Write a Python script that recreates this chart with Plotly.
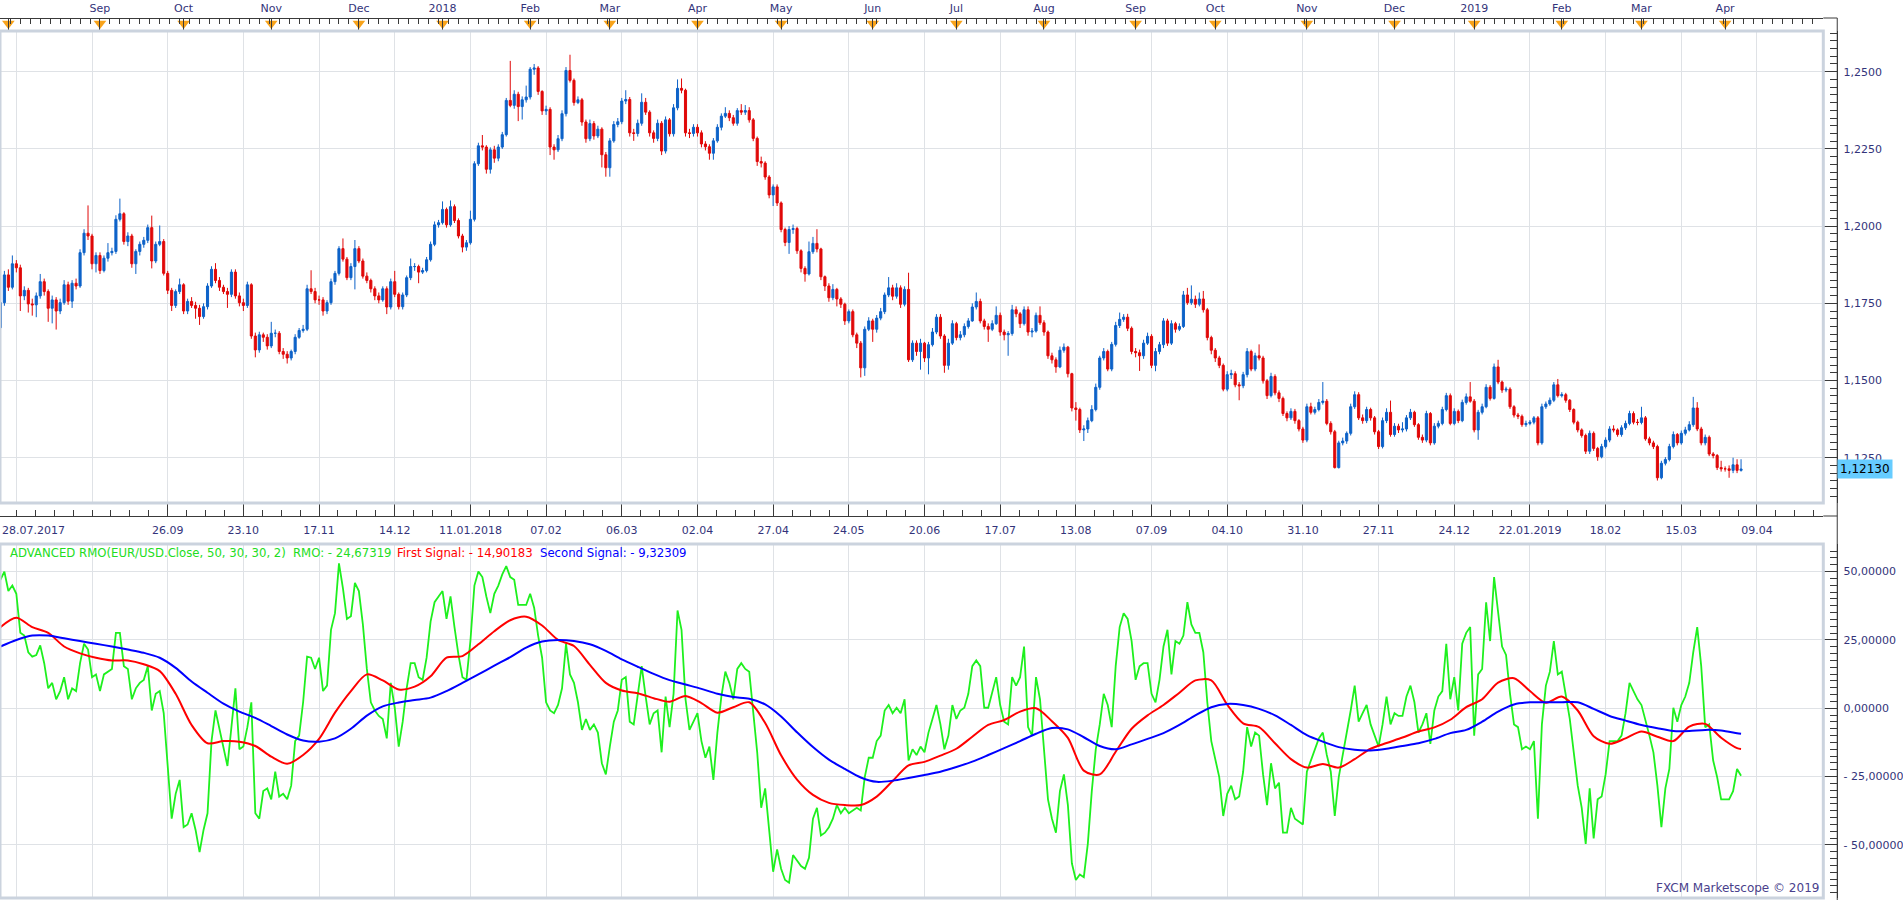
import pandas as pd
import plotly.graph_objects as go

# ---------------- data (EUR/USD daily, prices in pips: 11752 = 1.1752) ----------------
close_pips = [
11752,11842,11802,11878,11865,11774,11792,11748,11745,11774,
11820,11788,11734,11761,11725,11752,11810,11757,11815,11806,
11914,11977,11968,11878,11905,11856,11896,11914,11918,12022,
12040,11950,11968,11878,11918,11941,11954,11995,11887,11941,
11950,11847,11792,11743,11788,11810,11725,11756,11743,11734,
11707,11739,11806,11860,11824,11802,11788,11779,11851,11774,
11752,11743,11810,11644,11599,11648,11640,11612,11653,11653,
11594,11585,11573,11594,11640,11662,11666,11797,11788,11761,
11761,11725,11752,11820,11847,11927,11893,11833,11869,11927,
11887,11838,11824,11797,11774,11761,11797,11738,11820,11779,
11739,11777,11833,11869,11869,11851,11856,11891,11941,12004,
12011,12054,12004,12063,12018,11968,11932,11946,12022,12202,
12260,12256,12184,12247,12220,12256,12296,12407,12391,12427,
12387,12409,12418,12508,12512,12436,12373,12378,12256,12247,
12283,12364,12504,12472,12400,12409,12337,12283,12332,12292,
12314,12231,12189,12276,12329,12338,12405,12410,12302,12300,
12333,12401,12369,12302,12284,12333,12243,12344,12299,12383,
12446,12440,12302,12300,12320,12302,12266,12257,12236,12276,
12320,12356,12365,12351,12333,12374,12369,12374,12344,12284,
12209,12204,12159,12101,12127,12075,11989,11947,11989,11992,
11920,11863,11845,11917,11944,11926,11836,11806,11768,11795,
11764,11747,11693,11723,11648,11621,11541,11666,11693,11666,
11702,11723,11777,11800,11773,11800,11747,11795,11567,11621,
11594,11621,11573,11616,11657,11705,11644,11549,11621,11684,
11639,11648,11675,11693,11738,11756,11693,11675,11666,11684,
11711,11657,11648,11652,11729,11716,11684,11729,11657,11660,
11711,11687,11657,11580,11567,11544,11598,11608,11522,11411,
11406,11340,11343,11370,11406,11478,11573,11594,11537,11617,
11678,11698,11705,11669,11594,11590,11580,11621,11643,11549,
11594,11616,11693,11621,11684,11666,11675,11777,11752,11763,
11747,11764,11729,11639,11598,11573,11549,11472,11519,11522,
11486,11483,11519,11594,11537,11580,11573,11499,11451,11513,
11460,11442,11393,11379,11400,11370,11343,11307,11415,11397,
11406,11429,11433,11361,11334,11218,11298,11304,11329,11415,
11454,11379,11370,11406,11379,11334,11286,11370,11397,11325,
11352,11340,11343,11379,11397,11357,11316,11307,11393,11298,
11352,11361,11406,11451,11361,11400,11370,11429,11447,11433,
11340,11397,11415,11478,11442,11544,11495,11469,11472,11415,
11388,11384,11357,11361,11365,11379,11298,11415,11424,11436,
11486,11451,11454,11436,11406,11365,11340,11322,11271,11329,
11280,11253,11286,11307,11343,11340,11325,11347,11361,11393,
11365,11364,11379,11311,11298,11286,11185,11232,11244,11286,
11325,11298,11329,11340,11357,11411,11343,11298,11316,11262,
11257,11218,11214,11214,11209,11227,11209,11213]

open_pips = [
11671,11752,11842,11802,11878,11865,11774,11792,11748,11745,
11774,11820,11788,11734,11761,11725,11752,11810,11757,11815,
11806,11914,11977,11968,11878,11905,11856,11896,11914,11918,
12022,12040,11950,11968,11878,11918,11941,11954,11995,11887,
11941,11950,11847,11792,11743,11788,11810,11725,11756,11743,
11734,11707,11739,11806,11860,11824,11802,11788,11779,11851,
11774,11752,11743,11810,11644,11599,11648,11640,11612,11653,
11653,11594,11585,11573,11594,11640,11662,11666,11797,11788,
11761,11761,11725,11752,11820,11847,11927,11893,11833,11869,
11927,11887,11838,11824,11797,11774,11761,11797,11738,11820,
11779,11739,11777,11833,11869,11869,11851,11856,11891,11941,
12004,12011,12054,12004,12063,12018,11968,11932,11946,12022,
12202,12260,12256,12184,12247,12220,12256,12296,12407,12391,
12427,12387,12409,12418,12508,12512,12436,12373,12378,12256,
12247,12283,12364,12504,12472,12400,12409,12337,12283,12332,
12292,12314,12231,12189,12276,12329,12338,12405,12410,12302,
12300,12333,12401,12369,12302,12284,12333,12243,12344,12299,
12383,12446,12440,12302,12300,12320,12302,12266,12257,12236,
12276,12320,12356,12365,12351,12333,12374,12369,12374,12344,
12284,12209,12204,12159,12101,12127,12075,11989,11947,11989,
11992,11920,11863,11845,11917,11944,11926,11836,11806,11768,
11795,11764,11747,11693,11723,11648,11621,11541,11666,11693,
11666,11702,11723,11777,11800,11773,11800,11747,11795,11567,
11621,11594,11621,11573,11616,11657,11705,11644,11549,11621,
11684,11639,11648,11675,11693,11738,11756,11693,11675,11666,
11684,11711,11657,11648,11652,11729,11716,11684,11729,11657,
11660,11711,11687,11657,11580,11567,11544,11598,11608,11522,
11411,11406,11340,11343,11370,11406,11478,11573,11594,11537,
11617,11678,11698,11705,11669,11594,11590,11580,11621,11643,
11549,11594,11616,11693,11621,11684,11666,11675,11777,11752,
11763,11747,11764,11729,11639,11598,11573,11549,11472,11519,
11522,11486,11483,11519,11594,11537,11580,11573,11499,11451,
11513,11460,11442,11393,11379,11400,11370,11343,11307,11415,
11397,11406,11429,11433,11361,11334,11218,11298,11304,11329,
11415,11454,11379,11370,11406,11379,11334,11286,11370,11397,
11325,11352,11340,11343,11379,11397,11357,11316,11307,11393,
11298,11352,11361,11406,11451,11361,11400,11370,11429,11447,
11433,11340,11397,11415,11478,11442,11544,11495,11469,11472,
11415,11388,11384,11357,11361,11365,11379,11298,11415,11424,
11436,11486,11451,11454,11436,11406,11365,11340,11322,11271,
11329,11280,11253,11286,11307,11343,11340,11325,11347,11361,
11393,11365,11364,11379,11311,11298,11286,11185,11232,11244,
11286,11325,11298,11329,11340,11357,11411,11343,11298,11316,
11262,11257,11218,11214,11214,11209,11227,11209]

high_pips = [
11770,11855,11860,11905,11890,11875,11805,11800,11765,11785,
11845,11830,11795,11775,11770,11765,11825,11820,11825,11830,
11925,11990,12067,11975,11915,11915,11905,11945,11930,12035,
12089,12045,11980,11975,11925,11950,11965,12005,12034,11950,
12002,11958,11855,11800,11795,11830,11815,11765,11770,11755,
11745,11750,11815,11870,11880,11835,11810,11800,11860,11860,
11785,11765,11820,11815,11655,11658,11655,11650,11690,11665,
11660,11605,11595,11600,11650,11670,11680,11810,11857,11800,
11775,11770,11760,11830,11855,11935,11960,11900,11880,11955,
11935,11895,11850,11830,11805,11785,11805,11805,11830,11855,
11785,11785,11840,11895,11880,11875,11865,11900,11950,12015,
12020,12080,12060,12083,12070,12025,11975,11955,12050,12210,
12270,12295,12262,12255,12260,12265,12305,12415,12535,12440,
12435,12420,12455,12515,12525,12518,12440,12390,12385,12265,
12295,12375,12515,12555,12478,12420,12415,12345,12345,12340,
12325,12320,12240,12285,12340,12350,12415,12440,12418,12315,
12345,12430,12415,12375,12310,12345,12340,12355,12350,12395,
12475,12478,12445,12315,12330,12330,12310,12275,12265,12285,
12330,12365,12385,12375,12360,12382,12395,12392,12385,12350,
12290,12225,12210,12165,12135,12135,12080,11995,12000,12005,
11998,11925,11870,11950,11965,11990,11930,11840,11815,11812,
11800,11770,11752,11730,11730,11655,11628,11675,11705,11700,
11712,11735,11785,11835,11810,11815,11808,11805,11849,11630,
11630,11635,11625,11625,11670,11715,11715,11650,11635,11695,
11690,11660,11685,11702,11750,11785,11765,11700,11685,11695,
11740,11720,11665,11660,11745,11740,11722,11740,11740,11670,
11720,11740,11695,11662,11590,11575,11610,11620,11612,11525,
11430,11412,11355,11380,11420,11490,11580,11605,11600,11625,
11690,11720,11715,11716,11675,11605,11600,11632,11655,11650,
11605,11625,11702,11700,11695,11690,11685,11790,11800,11808,
11775,11785,11790,11735,11645,11605,11580,11555,11530,11535,
11530,11495,11528,11605,11600,11590,11617,11580,11505,11525,
11520,11468,11448,11400,11410,11408,11375,11350,11425,11428,
11415,11440,11495,11440,11368,11340,11305,11315,11335,11425,
11465,11462,11390,11415,11412,11385,11340,11380,11410,11435,
11362,11360,11365,11388,11408,11402,11362,11325,11402,11398,
11362,11370,11415,11460,11458,11410,11406,11438,11458,11495,
11440,11405,11425,11488,11485,11555,11567,11500,11480,11478,
11420,11395,11390,11370,11372,11385,11385,11425,11432,11445,
11495,11505,11462,11460,11440,11410,11370,11345,11328,11338,
11335,11285,11295,11316,11352,11355,11345,11355,11370,11402,
11400,11375,11415,11385,11318,11305,11292,11240,11252,11295,
11335,11330,11338,11350,11368,11447,11430,11350,11325,11322,
11268,11262,11240,11222,11225,11250,11245,11245]

low_pips = [
11660,11742,11790,11795,11850,11725,11760,11720,11710,11705,
11765,11775,11690,11685,11665,11715,11745,11745,11735,11795,
11800,11905,11955,11860,11850,11845,11850,11885,11905,11910,
12015,11940,11935,11865,11845,11905,11930,11945,11863,11880,
11935,11840,11780,11725,11735,11780,11715,11715,11735,11700,
11680,11700,11730,11800,11815,11790,11780,11735,11770,11765,
11740,11725,11735,11635,11575,11590,11625,11600,11605,11640,
11585,11570,11555,11565,11585,11635,11655,11660,11780,11750,
11745,11710,11715,11745,11810,11840,11885,11825,11825,11795,
11880,11830,11815,11785,11760,11750,11755,11715,11730,11770,
11730,11730,11770,11825,11855,11815,11845,11850,11885,11935,
11995,12005,11995,11998,12010,11960,11915,11920,11940,12015,
12195,12245,12170,12170,12205,12210,12250,12290,12385,12380,
12340,12345,12400,12410,12490,12425,12360,12360,12230,12215,
12240,12275,12355,12465,12390,12395,12325,12270,12275,12280,
12285,12190,12160,12160,12270,12320,12330,12395,12290,12276,
12290,12325,12360,12290,12270,12275,12230,12235,12290,12290,
12375,12430,12290,12285,12290,12290,12255,12245,12215,12215,
12270,12310,12350,12340,12325,12325,12360,12360,12335,12275,
12195,12190,12150,12090,12065,12065,11980,11935,11910,11975,
11910,11850,11820,11840,11910,11915,11825,11790,11755,11760,
11740,11735,11680,11685,11640,11605,11510,11515,11660,11625,
11655,11695,11715,11770,11760,11765,11735,11740,11560,11560,
11580,11535,11560,11520,11610,11650,11635,11525,11535,11615,
11630,11630,11640,11668,11690,11730,11685,11665,11625,11660,
11680,11645,11630,11580,11645,11705,11670,11678,11645,11640,
11655,11680,11645,11570,11555,11525,11540,11590,11510,11400,
11370,11330,11304,11330,11365,11400,11470,11565,11530,11530,
11610,11670,11690,11660,11585,11575,11531,11570,11615,11540,
11530,11585,11605,11612,11615,11655,11660,11670,11745,11745,
11735,11740,11720,11630,11585,11560,11540,11465,11465,11505,
11478,11436,11475,11510,11530,11530,11565,11490,11440,11445,
11452,11430,11385,11368,11372,11360,11335,11298,11300,11390,
11390,11400,11422,11355,11325,11215,11215,11290,11295,11322,
11408,11372,11360,11362,11370,11325,11278,11280,11362,11318,
11318,11330,11332,11335,11372,11350,11308,11298,11300,11290,
11292,11345,11355,11400,11355,11355,11362,11365,11422,11428,
11332,11308,11390,11410,11435,11438,11488,11460,11462,11408,
11380,11375,11350,11350,11355,11358,11290,11292,11408,11418,
11430,11445,11445,11428,11398,11358,11332,11315,11262,11262,
11272,11240,11248,11280,11300,11332,11318,11318,11340,11355,
11358,11355,11358,11305,11290,11278,11176,11180,11225,11238,
11280,11290,11292,11322,11335,11350,11336,11290,11290,11255,
11248,11210,11205,11205,11185,11200,11200,11205]

# ADVANCED RMO (green), one value per candle
rmo = [
47.0,50.0,42.9,44.9,41.9,27.6,26.6,20.5,18.9,19.5,
23.0,16.5,7.3,9.3,3.3,6.3,11.4,3.3,7.3,6.3,
16.5,23.6,21.5,11.4,12.4,6.3,12.4,13.4,14.4,27.6,
27.6,15.4,14.4,3.3,7.3,9.3,10.4,15.4,-0.8,5.3,
6.3,-1.8,-20.1,-40.4,-31.3,-26.2,-43.5,-42.5,-38.4,-44.5,
-52.6,-44.5,-38.4,-12.0,-0.8,-7.9,-14.0,-21.1,-6.9,7.3,
-15.0,-14.0,-6.9,2.2,-38.4,-40.4,-30.3,-29.3,-33.3,-23.2,
-32.3,-31.3,-33.3,-28.3,-12.0,-10.0,2.2,18.9,18.5,14.4,
18.5,6.3,8.3,28.7,34.8,53.0,43.9,32.7,33.7,45.9,
42.9,30.7,14.4,2.2,-0.8,-2.8,-3.9,-11.0,9.3,0.2,
-14.0,-4.9,7.3,16.5,16.5,11.4,10.4,18.5,31.7,38.8,
40.9,42.9,32.7,40.9,29.7,19.5,11.4,10.4,24.6,44.9,
50.0,48.0,40.9,34.8,41.9,44.9,49.0,52.0,48.0,47.0,
37.8,37.8,37.8,41.9,36.8,26.6,18.5,2.2,-0.8,-1.8,
1.2,7.3,23.6,12.4,9.3,2.2,-7.9,-3.9,-7.9,-5.9,
-8.9,-20.1,-24.2,-14.0,-4.9,-0.8,10.4,11.4,-4.9,-5.9,
4.3,15.4,4.3,-5.9,-1.8,-0.8,-16.1,4.3,-6.9,5.3,
35.8,28.7,3.3,-7.9,-4.9,-1.8,-12.0,-18.1,-14.0,-26.2,
-8.9,4.3,13.4,9.3,3.3,14.4,16.5,14.4,13.4,-0.8,
-16.1,-36.4,-29.3,-44.5,-59.8,-51.6,-58.7,-62.8,-63.8,-53.7,
-55.7,-57.7,-58.7,-54.7,-40.4,-36.4,-46.5,-45.5,-43.5,-40.4,
-35.4,-38.4,-36.4,-38.4,-37.4,-36.4,-37.4,-25.2,-18.1,-18.1,
-12.0,-10.0,-0.8,1.2,-1.8,0.2,-1.8,3.3,-19.1,-15.0,
-17.1,-14.0,-16.1,-8.9,-3.9,1.2,-5.9,-15.0,-10.0,1.2,
-3.9,-0.8,0.2,5.3,15.4,17.5,15.4,0.2,0.2,5.3,
11.4,1.2,-4.9,-5.9,11.4,8.3,11.4,22.6,-6.9,-10.0,
11.4,3.3,-16.1,-33.3,-40.4,-45.5,-30.3,-24.2,-35.4,-56.7,
-62.8,-60.8,-61.8,-49.6,-30.3,-15.0,-5.9,5.3,1.2,-6.9,
15.4,29.7,34.8,32.7,24.6,10.4,15.4,16.5,16.5,5.3,
2.2,10.4,22.6,28.7,12.4,24.6,23.6,26.6,38.8,30.7,
27.6,27.6,20.5,2.2,-12.0,-18.1,-25.2,-39.4,-31.3,-28.3,
-33.3,-32.3,-23.2,-6.9,-14.0,-8.9,-10.0,-24.2,-35.4,-20.1,
-29.3,-27.2,-45.5,-45.5,-36.4,-40.4,-41.5,-42.5,-23.2,-19.1,
-15.0,-11.0,-8.9,-17.1,-23.2,-39.4,-25.2,-17.1,-10.0,-0.8,
8.3,-4.9,-1.8,1.2,-5.9,-10.0,-14.0,-5.9,4.3,-5.9,
-1.8,-2.8,-2.8,4.3,8.3,2.2,-8.9,-5.9,-1.8,-13.0,
-0.8,4.3,6.3,23.6,3.3,11.4,-0.8,23.6,27.6,29.7,
-10.0,12.4,14.4,38.8,24.6,48.0,34.8,22.6,19.5,5.3,
-5.9,-6.9,-15.0,-14.0,-15.0,-12.0,-40.4,-5.9,8.3,13.4,
24.6,12.4,13.4,4.3,-3.9,-16.1,-28.3,-36.4,-49.6,-29.3,
-47.6,-33.3,-32.3,-24.2,-12.0,-12.0,-12.0,-10.0,-1.8,9.3,
6.3,3.3,1.2,-3.9,-10.0,-16.1,-28.3,-43.5,-29.3,-22.2,
0.2,-4.9,1.2,4.3,9.3,20.5,29.7,15.4,-6.9,-5.9,
-19.1,-25.2,-33.3,-33.3,-33.3,-30.3,-22.2,-24.67319]

# First / Second signal, read every 4th candle (candles 0,4,...,436) plus the last candle
first_signal = [
29.7,33.1,29.7,27.6,22.6,20.1,18.5,17.5,17.5,16.1,
13.6,5.3,-6.1,-12.8,-12.0,-12.2,-13.8,-17.7,-20.3,-17.1,
-11.2,-1.6,6.3,12.4,10.2,6.9,7.9,11.7,18.5,19.1,
23.4,28.2,32.2,33.5,30.3,25.0,22.8,15.9,9.3,6.5,
5.5,3.7,2.4,4.5,1.9,-1.6,0.4,2.2,-5.4,-17.2,
-26.1,-31.7,-34.6,-35.4,-35.4,-32.3,-26.6,-20.9,-19.6,-17.3,
-14.8,-10.4,-6.1,-4.3,-1.2,0.0,-4.7,-10.8,-22.8,-24.2,
-15.9,-7.5,-2.6,1.2,5.7,10.2,10.2,1.3,-5.5,-6.9,
-12.8,-18.6,-21.7,-20.4,-21.7,-18.6,-14.8,-12.7,-10.7,-8.5,
-7.0,-4.2,0.4,3.3,9.4,11.0,6.3,2.0,4.3,-0.8,
-10.2,-13.0,-11.0,-8.5,-10.4,-12.0,-6.7,-5.7,-10.8,-14.6,
-14.90183]

second_signal = [
22.6,25.0,26.6,26.6,25.6,24.6,23.6,22.6,21.5,20.3,
18.5,14.8,9.8,5.7,1.7,-1.2,-3.5,-6.5,-9.6,-11.8,
-12.2,-11.0,-7.5,-2.7,0.7,2.1,3.0,3.9,6.3,9.3,
12.4,15.6,18.7,22.2,24.4,25.0,24.6,23.4,21.0,17.9,
15.2,12.6,10.3,8.7,7.1,5.3,4.1,3.5,1.4,-3.0,
-8.8,-14.2,-18.8,-22.2,-25.3,-26.9,-26.5,-25.5,-24.4,-23.2,
-21.5,-19.5,-17.1,-14.6,-12.0,-9.3,-7.2,-7.7,-10.6,-13.8,
-15.0,-13.2,-11.2,-9.1,-6.1,-2.6,0.4,1.6,1.2,-0.2,
-2.6,-6.1,-9.8,-12.2,-14.2,-15.2,-15.4,-14.8,-13.8,-12.8,
-11.2,-9.1,-7.9,-4.9,-1.2,1.4,2.2,2.2,2.2,2.2,
-0.2,-2.8,-4.5,-6.1,-7.3,-8.3,-8.3,-7.9,-8.1,-9.1,
-9.32309]

price_ticks = [1.125, 1.15, 1.175, 1.2, 1.225, 1.25]
price_tick_labels = ["1,1250", "1,1500", "1,1750", "1,2000", "1,2250", "1,2500"]
rmo_ticks = [50, 25, 0, -25, -50]
rmo_tick_labels = ["50,00000", "25,00000", "0,00000", "- 25,00000", "- 50,00000"]
date_tick_labels = ["", "", "26.09", "23.10", "17.11", "14.12", "11.01.2018", "07.02", "06.03",
                    "02.04", "27.04", "24.05", "20.06", "17.07", "13.08", "07.09", "04.10",
                    "31.10", "27.11", "24.12", "22.01.2019", "18.02", "15.03", "09.04"]
first_date_label = "28.07.2017"
month_labels = ["", "Sep", "Oct", "Nov", "Dec", "2018", "Feb", "Mar", "Apr", "May", "Jun",
                "Jul", "Aug", "Sep", "Oct", "Nov", "Dec", "2019", "Feb", "Mar", "Apr"]

lens = {len(close_pips), len(open_pips), len(high_pips), len(low_pips), len(rmo)}
if len(lens) != 1:
    raise SystemExit(f"length mismatch: {[len(close_pips), len(open_pips), len(high_pips), len(low_pips), len(rmo)]}")

N = len(close_pips)
closes = [v / 10000 for v in close_pips]
opens = [v / 10000 for v in open_pips]
highs = [v / 10000 for v in high_pips]
lows = [v / 10000 for v in low_pips]

# trading days (categories)
days = pd.bdate_range("2017-07-28", "2019-04-30")
days = days[~days.isin(pd.to_datetime(["2018-01-01", "2018-12-25", "2019-01-01"]))]
dates = days[:N]
periods = days.to_period("M")
month_start_idx = [i for i in range(1, len(days)) if periods[i] != periods[i - 1]]

x_idx = list(range(N))
sig_idx = list(range(0, N, 4)) + [N - 1]
grid_idx = list(range(4, 460, 19))
minor_date_idx = [4 + k * 19 / 4 for k in range(100) if 4 + k * 19 / 4 < 458]
minor_month_idx = [k * 2.5 for k in range(0, 184)]

# ---------------- layout geometry (pixels) ----------------
W, H = 1903, 900
PLOT_R = 1831
AXIS_X = 1845


def fx(p):
    return p / W


def fy(p):
    return 1 - p / H


x_range = [-0.1, -0.1 + PLOT_R / 4.0]
TXT = "#33337a"
GRID = "#dfe2e6"
AXC = "#3a3a3a"
FONT = "DejaVu Sans"


def fmt(v, d):
    s = f"{abs(v):.{d}f}".replace(".", ",")
    return ("- " + s) if v < 0 else s


fig = go.Figure()

fig.add_trace(go.Candlestick(
    x=x_idx, open=opens, high=highs, low=lows, close=closes,
    increasing=dict(line=dict(color="#0d62c8", width=1), fillcolor="#0d62c8"),
    decreasing=dict(line=dict(color="#e00808", width=1), fillcolor="#e00808"),
    whiskerwidth=0, xaxis="x", yaxis="y", hoverinfo="skip", showlegend=False))

fig.add_trace(go.Scatter(
    x=month_start_idx, y=[0.5] * len(month_start_idx), mode="markers",
    marker=dict(symbol="triangle-down", size=11, color="#f8a31a",
                line=dict(color="#f8a31a", width=0)),
    xaxis="x2", yaxis="y3", hoverinfo="skip", showlegend=False))

fig.add_trace(go.Scatter(x=x_idx, y=rmo, mode="lines", line=dict(color="#1ef01e", width=1.8),
                         xaxis="x3", yaxis="y2", hoverinfo="skip", showlegend=False))
fig.add_trace(go.Scatter(x=sig_idx, y=first_signal, mode="lines",
                         line=dict(color="#ff0000", width=2, shape="spline", smoothing=0.8),
                         xaxis="x3", yaxis="y2", hoverinfo="skip", showlegend=False))
fig.add_trace(go.Scatter(x=sig_idx, y=second_signal, mode="lines",
                         line=dict(color="#0000ff", width=2, shape="spline", smoothing=0.8),
                         xaxis="x3", yaxis="y2", hoverinfo="skip", showlegend=False))

tickfont = dict(family=FONT, size=11, color=TXT)

fig.update_layout(
    width=W, height=H, margin=dict(l=0, r=0, t=0, b=0),
    paper_bgcolor="white", plot_bgcolor="white", showlegend=False, boxgap=0.25,
    xaxis=dict(domain=[0, fx(PLOT_R)], range=x_range, anchor="free", position=fy(516),
               side="bottom", showline=True, linecolor=AXC, linewidth=1,
               ticks="inside", ticklen=13, tickcolor=AXC, tickwidth=1,
               tickmode="array", tickvals=grid_idx, ticktext=date_tick_labels,
               tickfont=tickfont, ticklabelstandoff=4,
               showgrid=True, gridcolor=GRID, gridwidth=1, zeroline=False,
               rangeslider=dict(visible=False),
               minor=dict(tickmode="array", tickvals=minor_date_idx, ticks="inside",
                          ticklen=6, tickcolor=AXC, showgrid=False)),
    yaxis=dict(domain=[fy(503), fy(31)], range=[1.11033, 1.26318], anchor="free",
               position=fx(AXIS_X), side="right", showline=True, linecolor=AXC,
               ticks="inside", ticklen=14, tickcolor=AXC, tickmode="array",
               tickvals=price_ticks, ticktext=price_tick_labels, tickfont=tickfont,
               ticklabelstandoff=3,
               showgrid=True, gridcolor=GRID, zeroline=False,
               minor=dict(dtick=0.0025, tick0=1.125, ticks="inside", ticklen=7,
                          tickcolor=AXC, showgrid=False)),
    xaxis2=dict(domain=[0, fx(PLOT_R)], range=x_range, anchor="free", position=fy(18),
                side="top", showline=True, linecolor=AXC, ticks="inside", ticklen=12,
                tickcolor=AXC, tickmode="array", tickvals=month_start_idx,
                ticktext=month_labels, tickfont=tickfont, ticklabelstandoff=2,
                showgrid=False, zeroline=False,
                minor=dict(tickmode="array", tickvals=minor_month_idx, ticks="inside",
                           ticklen=5, tickcolor=AXC, showgrid=False)),
    yaxis3=dict(domain=[fy(30), fy(17)], range=[0, 1], anchor="x2", visible=False),
    xaxis3=dict(domain=[0, fx(PLOT_R)], range=x_range, anchor="y2", showticklabels=False,
                ticks="", tickmode="array", tickvals=grid_idx, showgrid=True,
                gridcolor=GRID, showline=False, zeroline=False),
    yaxis2=dict(domain=[fy(898), fy(544)], range=[-69.4, 60.1], anchor="free",
                position=fx(AXIS_X), side="right", showline=True, linecolor=AXC,
                ticks="inside", ticklen=14, tickcolor=AXC, tickmode="array",
                tickvals=rmo_ticks, ticktext=rmo_tick_labels, tickfont=tickfont,
                ticklabelstandoff=3,
                showgrid=True, gridcolor=GRID, zeroline=False,
                minor=dict(dtick=2.5, tick0=0, ticks="inside", ticklen=7,
                           tickcolor=AXC, showgrid=False)),
)

# panel frames and the right-hand scale line
frame = dict(color="#cbd3de", width=3)
fig.add_shape(type="rect", xref="paper", yref="paper", x0=fx(0), x1=fx(PLOT_R),
              y0=fy(503), y1=fy(31), line=frame)
fig.add_shape(type="rect", xref="paper", yref="paper", x0=fx(0), x1=fx(PLOT_R),
              y0=fy(898), y1=fy(544), line=frame)
fig.add_shape(type="line", xref="paper", yref="paper", x0=fx(AXIS_X), x1=fx(AXIS_X),
              y0=fy(900), y1=fy(18), line=dict(color=AXC, width=1))
fig.add_shape(type="line", xref="paper", yref="paper", x0=fx(PLOT_R), x1=fx(AXIS_X),
              y0=fy(516), y1=fy(516), line=dict(color=AXC, width=1))
fig.add_shape(type="line", xref="paper", yref="paper", x0=fx(PLOT_R), x1=fx(AXIS_X),
              y0=fy(18), y1=fy(18), line=dict(color=AXC, width=1))

ann_font = dict(family=FONT, size=11)
fig.add_annotation(xref="paper", yref="paper", x=0, y=fy(530), xanchor="left", yanchor="middle",
                   text=first_date_label, showarrow=False, font=dict(ann_font, color=TXT))

legend_font = dict(family=FONT, size=11.7)
legend_parts = [
    (8, "ADVANCED RMO(EUR/USD.Close, 50, 30, 30, 2)", "#22dd22"),
    (292, "RMO: " + fmt(rmo[-1], 5), "#22dd22"),
    (397, "First Signal: " + fmt(first_signal[-1], 5), "#ff0000"),
    (540, "Second Signal: " + fmt(second_signal[-1], 5), "#0000ff"),
]
for xpos, txt, col in legend_parts:
    fig.add_annotation(xref="paper", yref="paper", x=fx(xpos), y=fy(553), xanchor="left",
                       yanchor="middle", text=txt, showarrow=False,
                       font=dict(legend_font, color=col))

fig.add_annotation(xref="paper", yref="y", x=fx(AXIS_X), y=closes[-1], xanchor="left",
                   yanchor="middle", text=fmt(closes[-1], 5), showarrow=False,
                   bgcolor="#66ccff", borderpad=2, font=dict(family=FONT, size=12, color="black"))

fig.add_annotation(xref="paper", yref="paper", x=fx(PLOT_R - 2), y=fy(897), xanchor="right",
                   yanchor="bottom", text="FXCM Marketscope © 2019", showarrow=False,
                   font=dict(family=FONT, size=12, color="#4a3f8c"))

fig.write_html("out.html", config={"displayModeBar": False})
